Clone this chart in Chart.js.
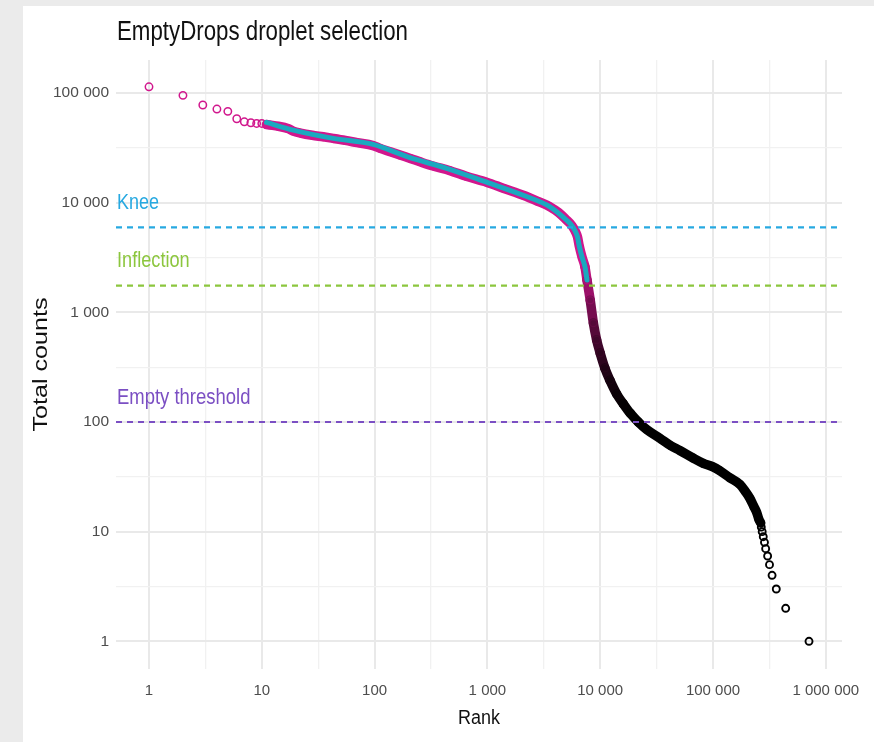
<!DOCTYPE html>
<html>
<head>
<meta charset="utf-8">
<title>EmptyDrops droplet selection</title>
<script src="https://cdn.jsdelivr.net/npm/chart.js@4/dist/chart.umd.min.js"></script>
<style>
  html, body { margin: 0; padding: 0; background: #ebebeb; }
  #wrap { width: 874px; height: 742px; }
</style>
</head>
<body>
<div id="wrap"><canvas id="c" width="874" height="742"></canvas></div>
<script>
// Barcode rank plot: total UMI counts per droplet against its rank.
// Top-ranked droplets, drawn individually
const earlyRank  = [1, 2, 3, 4, 5, 6, 7, 8, 9, 10];
const earlyCount = [114000, 95300, 77800, 71500, 68100, 58300, 54700, 53600, 52800, 52800];

// Dense body of the curve
const bandRank  = [11, 12, 14, 17, 19, 22, 28, 35, 43, 55, 70, 97, 112, 140, 168, 210, 253, 330, 466, 650,
                   983, 1400, 2080, 2800, 3590, 4300, 5050, 5600, 5980, 6300, 6530, 6900, 7330, 7640, 8160,
                   8700, 9300, 10000, 11000, 12200, 14000, 16000, 18500, 21800, 26000, 33900, 42000, 50800,
                   66500, 82000, 100000, 115000, 141000, 173000, 195000, 213000, 230000, 244000, 255000, 265000];
const bandCount = [51600, 51000, 49800, 47500, 45000, 43200, 41200, 39900, 38600, 37000, 35300, 33200, 31300,
                   29000, 27200, 25200, 23600, 21600, 19600, 17400, 15400, 13500, 11700, 10300, 9180, 8100,
                   6920, 6200, 5550, 4850, 4000, 3200, 2600, 1970, 1290, 800, 560, 425, 310, 240, 180, 147,
                   120, 100, 85, 71, 61, 55, 47, 42, 39, 36, 31, 27, 23, 20, 17, 15, 13, 12];

// Low-count tail, one integer count per step
const tailRank  = [268000, 273000, 279000, 286000, 293000, 305000, 317000, 334000, 364000, 441000, 710000];
const tailCount = [11, 10, 9, 8, 7, 6, 5, 4, 3, 2, 1];

// Fitted curve over the cell-containing region
const fitRank  = [11, 19, 43, 97, 200, 435, 983, 2080, 3590, 5050, 5600, 5980, 6300, 6530, 6900, 7330, 7640];
const fitCount = [54000, 45900, 38600, 34000, 26000, 20600, 15400, 11700, 9180, 6920, 6200, 5550, 4850,
                  4000, 3200, 2600, 1970];

// Thresholds
const thresholdNames  = ['Knee', 'Inflection', 'Empty threshold'];
const thresholdValues = [5960, 1750, 100];

// Axis ticks
const xTickValues = [1, 10, 100, 1000, 10000, 100000, 1000000];
const xTickLabels = ['1', '10', '100', '1 000', '10 000', '100 000', '1 000 000'];
const xMinorValues = [3.162, 31.62, 316.2, 3162, 31623, 316228];
const yTickValues = [1, 10, 100, 1000, 10000, 100000];
const yTickLabels = ['1', '10', '100', '1 000', '10 000', '100 000'];
const yMinorValues = [3.162, 31.62, 316.2, 3162, 31623];

// Axis limits (log scales)
const X_MIN = Math.pow(10, -0.2925), X_MAX = Math.pow(10, 6.1437);
const Y_MIN = Math.pow(10, -0.2525), Y_MAX = Math.pow(10, 5.3015);

// ---- styling ----
const FONT = '"Liberation Sans", Arial, Helvetica, sans-serif';
const MAGENTA = [209, 23, 141];
const FIT_COLOR = '#1aa9bf';
const THRESHOLD_COLORS = ['#27a9e1', '#8cc63e', '#7b4fc3'];

function pointColor(count) {
  let t = (Math.log10(count) - 2.0) / 1.45;
  t = Math.max(0, Math.min(1, t));
  t = Math.pow(t, 1.6);
  const c = MAGENTA.map(v => Math.round(v * t));
  return `rgb(${c[0]},${c[1]},${c[2]})`;
}

const toXY = (xs, ys) => xs.map((x, i) => ({ x, y: ys[i] }));

function tickSetter(major, minor) {
  return scale => {
    const vals = major.concat(minor).sort((a, b) => a - b);
    scale.ticks = vals.map(v => ({ value: v, major: false }));
  };
}
function labelFor(values, labels) {
  return value => {
    const i = values.findIndex(v => Math.abs(v - value) / v < 1e-6);
    return i >= 0 ? labels[i] : '';
  };
}
function isMajor(values, v) {
  return values.some(m => Math.abs(m - v) / m < 1e-6);
}

const datasets = [];
thresholdNames.forEach((name, i) => {
  datasets.push({
    label: name,
    data: [{ x: X_MIN, y: thresholdValues[i] }, { x: X_MAX, y: thresholdValues[i] }],
    showLine: true,
    borderColor: THRESHOLD_COLORS[i],
    borderWidth: 2.2,
    borderDash: [6, 5],
    pointRadius: 0,
    order: 0
  });
});
datasets.push({
  label: 'fit',
  data: toXY(fitRank, fitCount),
  showLine: true,
  borderColor: FIT_COLOR,
  borderWidth: 5,
  borderCapStyle: 'round',
  cubicInterpolationMode: 'monotone',
  pointRadius: 0,
  order: 1
});
datasets.push({
  label: 'band',
  data: toXY(bandRank, bandCount),
  showLine: true,
  borderWidth: 9.5,
  borderCapStyle: 'round',
  borderJoinStyle: 'round',
  cubicInterpolationMode: 'monotone',
  segment: {
    borderColor: ctx => pointColor(Math.sqrt(ctx.p0.parsed.y * ctx.p1.parsed.y))
  },
  pointRadius: 3.6,
  pointBorderWidth: 1.5,
  pointBackgroundColor: 'rgba(0,0,0,0)',
  pointBorderColor: ctx => pointColor(ctx.raw ? ctx.raw.y : 1000),
  order: 2
});
datasets.push({
  label: 'top',
  data: toXY(earlyRank, earlyCount),
  showLine: false,
  pointRadius: 3.7,
  pointBorderWidth: 1.5,
  pointBackgroundColor: 'rgba(0,0,0,0)',
  pointBorderColor: pointColor(1e5),
  order: 3
});
datasets.push({
  label: 'tail',
  data: toXY(tailRank, tailCount),
  showLine: false,
  pointRadius: 3.5,
  pointBorderWidth: 1.9,
  pointBackgroundColor: 'rgba(0,0,0,0)',
  pointBorderColor: '#000000',
  order: 3
});

// Draws text squeezed or stretched to a given run length
function fittedText(ctx, text, x, y, size, width, align, color, rotate) {
  ctx.save();
  ctx.font = `${size}px ${FONT}`;
  const w = ctx.measureText(text).width;
  ctx.translate(x, y);
  if (rotate) ctx.rotate(-Math.PI / 2);
  ctx.scale(width / w, 1);
  ctx.textAlign = align;
  ctx.textBaseline = 'alphabetic';
  ctx.fillStyle = color;
  ctx.fillText(text, 0, 0);
  ctx.restore();
}

const pagePlugin = {
  id: 'page',
  beforeDraw(chart) {
    const ctx = chart.ctx;
    ctx.save();
    ctx.fillStyle = '#ebebeb';
    ctx.fillRect(0, 0, chart.width, chart.height);
    ctx.fillStyle = '#ffffff';
    ctx.fillRect(23, 6, chart.width - 23, chart.height - 6);
    ctx.restore();
  },
  afterDraw(chart) {
    const ctx = chart.ctx;
    const a = chart.chartArea;
    const ys = chart.scales.y;
    fittedText(ctx, 'EmptyDrops droplet selection', a.left + 1, 40, 27, 291, 'left', '#111111', false);
    fittedText(ctx, 'Rank', (a.left + a.right) / 2, 724, 19.5, 42, 'center', '#111111', false);
    fittedText(ctx, 'Total counts', 47, (a.top + a.bottom) / 2, 19.6, 134, 'center', '#111111', true);
    const widths = [42, 72.7, 133.4];
    thresholdNames.forEach((name, i) => {
      const py = ys.getPixelForValue(thresholdValues[i]);
      fittedText(ctx, name, a.left + 1, py - 18.5, 22, widths[i], 'left', THRESHOLD_COLORS[i], false);
    });
  }
};

function gridStyle(majors) {
  return {
    drawTicks: false,
    color: ctx => (ctx.tick && isMajor(majors, ctx.tick.value)) ? '#e9e9e9' : '#f1f1f1',
    lineWidth: ctx => (ctx.tick && isMajor(majors, ctx.tick.value)) ? 2 : 1.3
  };
}

new Chart(document.getElementById('c'), {
  type: 'scatter',
  data: { datasets },
  plugins: [pagePlugin],
  options: {
    responsive: false,
    animation: false,
    events: [],
    layout: { padding: { top: 60, right: 32, bottom: 0, left: 0 } },
    plugins: { legend: { display: false }, tooltip: { enabled: false }, title: { display: false } },
    scales: {
      x: {
        type: 'logarithmic',
        min: X_MIN, max: X_MAX,
        afterBuildTicks: tickSetter(xTickValues, xMinorValues),
        afterFit: s => { s.height = 73; },
        border: { display: false },
        grid: gridStyle(xTickValues),
        ticks: {
          autoSkip: false, maxRotation: 0, minRotation: 0, padding: 13,
          color: '#4d4d4d', font: { family: FONT, size: 15 },
          callback: labelFor(xTickValues, xTickLabels)
        }
      },
      y: {
        type: 'logarithmic',
        min: Y_MIN, max: Y_MAX,
        afterBuildTicks: tickSetter(yTickValues, yMinorValues),
        afterFit: s => { s.width = 116; },
        border: { display: false },
        grid: gridStyle(yTickValues),
        ticks: {
          autoSkip: false, padding: 7,
          color: '#4d4d4d', font: { family: FONT, size: 15.5 },
          callback: labelFor(yTickValues, yTickLabels)
        }
      }
    }
  }
});
</script>
</body>
</html>
